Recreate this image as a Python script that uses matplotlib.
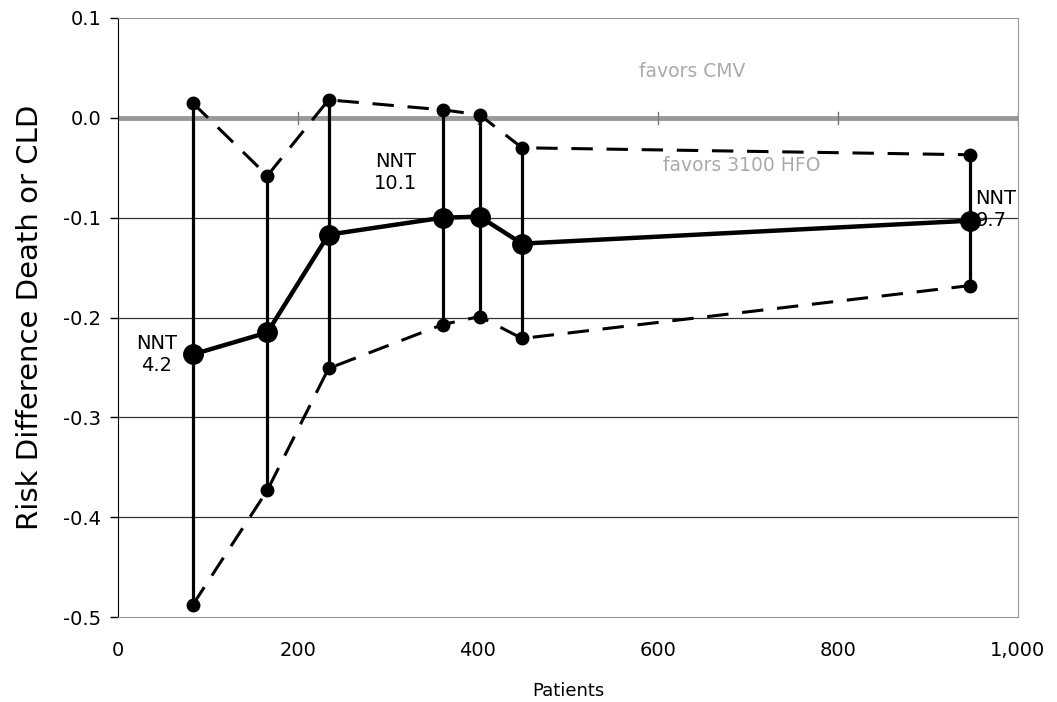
import matplotlib.pyplot as plt

# data
patients = [83, 166, 234, 361, 402, 449, 947]
risk_diff = [-0.237, -0.215, -0.117, -0.100, -0.099, -0.126, -0.103]
upper_ci = [0.015, -0.058, 0.018, 0.008, 0.003, -0.030, -0.037]
lower_ci = [-0.488, -0.373, -0.251, -0.207, -0.199, -0.221, -0.168]

plt.rcParams['font.family'] = ['DejaVu Sans']

fig = plt.figure(figsize=(10.57, 7.02), dpi=100)
ax = fig.add_axes([0.1116, 0.121, 0.8514, 0.8534])

ax.set_xlim(0, 1000)
ax.set_ylim(-0.5, 0.1)

# gridlines
for y in [-0.1, -0.2, -0.3, -0.4]:
    ax.axhline(y, color='#333333', lw=0.9, zorder=1)

# x axis crossing at zero
ax.axhline(0, color='#999999', lw=3.5, zorder=2)
for x in [200, 400, 600, 800, 1000]:
    ax.plot([x, x], [-0.006, 0.006], color='#777777', lw=1, zorder=2)

# confidence interval bars
ax.vlines(patients, lower_ci, upper_ci, color='black', lw=2.3, zorder=3)

ax.plot(patients, upper_ci, color='black', lw=2.2, ls=(0, (7, 4.5)),
        marker='o', ms=9, zorder=4)
ax.plot(patients, lower_ci, color='black', lw=2.2, ls=(0, (7, 4.5)),
        marker='o', ms=9, zorder=4)
ax.plot(patients, risk_diff, color='black', lw=3.2, marker='o', ms=14, zorder=5)

# labels
ax.text(43, -0.237, 'NNT\n4.2', ha='center', va='center', fontsize=14,
        linespacing=1.2)
ax.text(308, -0.055, 'NNT\n10.1', ha='center', va='center', fontsize=14,
        linespacing=1.2)
ax.text(953, -0.092, 'NNT\n9.7', ha='left', va='center', fontsize=14,
        linespacing=1.2)
ax.text(638, 0.046, 'favors CMV', ha='center', va='center', fontsize=13.5,
        color='#aaaaaa')
ax.text(693, -0.048, 'favors 3100 HFO', ha='center', va='center', fontsize=13.5,
        color='#aaaaaa')

ax.set_xticks([0, 200, 400, 600, 800, 1000])
ax.set_xticklabels(['0', '200', '400', '600', '800', '1,000'])
ax.set_yticks([-0.5, -0.4, -0.3, -0.2, -0.1, 0.0, 0.1])
ax.set_yticklabels(['-0.5', '-0.4', '-0.3', '-0.2', '-0.1', '0.0', '0.1'])
ax.tick_params(axis='x', length=0, pad=17, labelsize=14)
ax.tick_params(axis='y', length=6, width=1, direction='out', labelsize=14, pad=6)

ax.set_xlabel('Patients', fontsize=13, labelpad=16)
ax.set_ylabel('Risk Difference Death or CLD', fontsize=21, labelpad=14)

ax.spines['left'].set_color('black')
for s in ['top', 'right', 'bottom']:
    ax.spines[s].set_color('#999999')

plt.savefig('out.png', dpi=100)
